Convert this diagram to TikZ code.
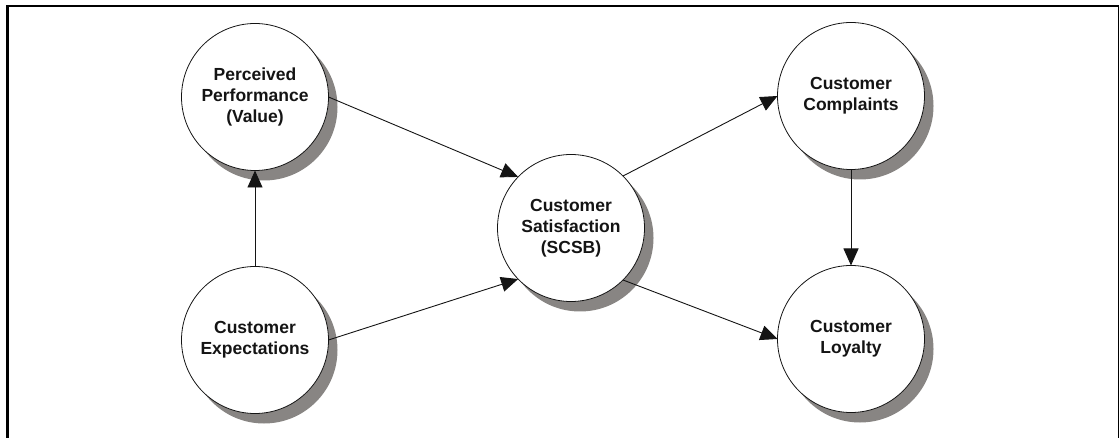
\documentclass[tikz,border=0pt]{standalone}
\usepackage{fontspec}
\setmainfont{Liberation Sans}
\usetikzlibrary{arrows.meta,backgrounds}
\definecolor{shadowgray}{RGB}{136,133,131}
\definecolor{ink}{RGB}{20,20,20}
\tikzset{
  construct/.style={circle, draw=ink, line width=0.8pt, fill=white,
    minimum size=147pt, inner sep=0pt, outer sep=0pt, align=center,
    font=\bfseries\fontsize{17.5}{21}\selectfont, text=ink},
  link/.style={draw=ink, line width=0.9pt, -{Triangle[length=17pt,width=15pt]}},
  frame/.style={draw=black, line cap=rect}
}
\begin{document}
\begin{tikzpicture}[x=1pt,y=-1pt]
  \useasboundingbox (0,0) rectangle (1119,438);
  % frame: open at the bottom
  \draw[frame, line width=2.6pt] (7.5,440) -- (7.5,6) -- (1118,6);
  \draw[frame, line width=1pt] (1118.3,6) -- (1118.3,440);

  % constructs
  \node[construct] (perf)  at (255,97)  {Perceived\\Performance\\(Value)};
  \node[construct] (exp)   at (255,340) {Customer\\Expectations};
  \node[construct] (sat)   at (571,228) {Customer\\Satisfaction\\(SCSB)};
  \node[construct] (comp)  at (851,96)  {Customer\\Complaints};
  \node[construct] (loyal) at (851,339) {Customer\\Loyalty};

  % drop shadows behind each construct
  \begin{scope}[on background layer]
    \foreach \n in {perf,exp,sat,comp,loyal}
      \fill[shadowgray] ([shift={(9pt,-10pt)}]\n.center) circle (73.5pt);
  \end{scope}

  % relations
  \draw[link] (exp.north) -- (perf.south);
  \draw[link] (perf.east) -- (sat.136);
  \draw[link] (exp.east) -- (sat.224);
  \draw[link] (sat.45) -- (comp.west);
  \draw[link] (sat.-45) -- (loyal.west);
  \draw[link] (comp.south) -- (loyal.north);
\end{tikzpicture}
\end{document}
